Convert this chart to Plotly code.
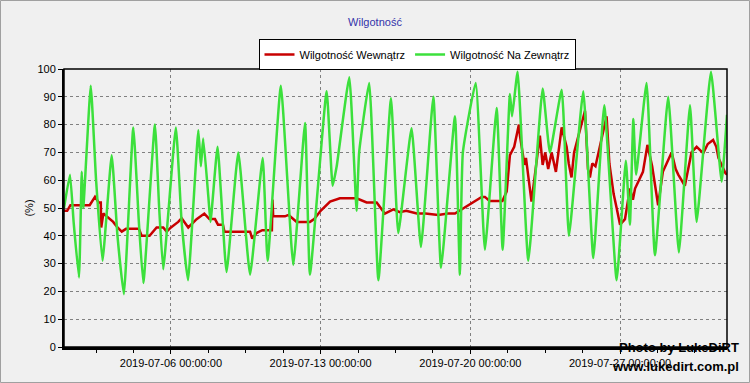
import pandas as pd
import plotly.graph_objects as go

START = pd.Timestamp("2019-07-01 00:00:00")

# Outdoor humidity: (days since 2019-07-01, %)
out_days = [0.0, 0.28, 0.45, 0.7, 0.83, 0.9, 1.25, 1.5, 1.8, 2.23, 2.5, 2.8, 3.24, 3.5, 3.71,
            4.25, 4.45, 4.64, 5.23, 5.5, 5.8, 6.28, 6.4, 6.51, 6.75, 6.85, 7.18, 7.6, 8.15, 8.7,
            9.29, 9.52, 10.14, 10.72, 11.27, 11.5, 12.28, 12.56, 12.75, 13.34, 13.68, 13.8, 14.27,
            14.7, 15.29, 15.63, 16.25, 16.69, 17.27, 17.63, 18.28, 18.51, 18.65, 19.25, 19.68,
            20.23, 20.51, 20.85, 20.95, 21.21, 21.71, 22.38, 22.72, 23.27, 23.61, 24.28, 24.75,
            25.26, 25.84, 26.27, 26.46, 26.62, 26.75, 27.24, 27.63, 28.25, 28.75, 29.27, 29.58,
            30.25, 30.75, 31.0]
out_vals = [50, 62, 45, 25, 63, 50, 94, 60, 31, 69, 40, 19, 79, 45, 23,
            80, 50, 28, 79, 45, 24, 78, 65, 75, 54, 45, 72, 27, 70, 26,
            68, 31, 94, 29.5, 80.6, 26, 92, 58, 65, 97, 49, 70, 95,
            24, 89.5, 41, 78.7, 36, 90, 28.5, 83, 26, 70, 95, 35,
            86, 35, 91, 83, 99, 31, 93, 70, 92.5, 40, 92, 32,
            87, 24, 67, 44, 82, 62, 95, 33, 90, 34, 87, 45,
            99, 59.5, 83.5]

# Indoor humidity: (days since 2019-07-01, %)
in_days = [0.0, 0.15, 0.3, 1.2, 1.45, 1.62, 1.72, 1.74, 1.84, 2.0, 2.3, 2.5, 2.7, 2.9, 3.5,
           3.63, 4.0, 4.33, 4.64, 4.8, 5.0, 5.34, 5.5, 5.81, 6.2, 6.56, 6.8, 7.06, 7.2, 7.43,
           7.5, 8.7, 8.8, 9.0, 9.27, 9.72, 9.75, 9.78, 10.33, 10.5, 10.8, 10.88, 11.5, 11.7,
           12.0, 12.44, 12.9, 13.68, 14.15, 14.62, 15.0, 15.4, 15.7, 16.0, 16.5, 16.9, 17.5,
           17.95, 18.28, 18.7, 19.06, 19.53, 19.68, 19.9, 20.5, 20.7, 20.85, 21.05, 21.27,
           21.32, 21.53, 21.6, 21.86, 22.25, 22.38, 22.5, 22.64, 22.8, 23.0, 23.27, 23.5, 23.6,
           23.73, 23.85, 24.36, 24.5, 24.59, 24.7, 24.85, 25.37, 25.5, 25.6, 25.7, 25.84, 26.0,
           26.23, 26.46, 26.6, 26.7, 27.07, 27.28, 27.5, 27.6, 27.78, 28.0, 28.41, 28.6, 28.72,
           29.03, 29.34, 29.58, 29.89, 30.1, 30.35, 30.5, 30.6, 30.93, 31.0]
in_vals = [49, 49, 51, 51, 54, 52, 52, 43, 48, 47, 45, 43, 41.5, 42.5, 42.5,
           40, 40, 43, 43, 41.5, 43, 45, 46.3, 43, 46, 48, 46, 46, 44, 44,
           41.5, 41.5, 39, 41, 42, 42, 53, 47, 47, 47.5, 45.7, 45, 45, 46,
           49, 52.3, 53.5, 53.5, 52, 52, 48, 49.5, 48.5, 49, 48, 48, 47.5,
           48, 48, 50, 52, 54, 54, 52.5, 52.5, 56, 69, 72, 80,
           76, 65.5, 68, 52.3, 76, 65.5, 70, 64, 70, 63, 79, 72, 66,
           61, 70, 85, 64, 61, 66, 65, 83, 66, 61, 55, 50, 44,
           46, 57, 53, 57, 63, 72.7, 65, 60, 51, 63, 70, 64, 62,
           58, 70, 72, 69.7, 73, 74.5, 72, 68, 62.5, 62]

x_tick_days = [5, 12, 19, 26]
x_tick_text = ["2019-07-06 00:00:00", "2019-07-13 00:00:00", "2019-07-20 00:00:00", "2019-07-27 00:00:00"]
y_ticks = [0, 10, 20, 30, 40, 50, 60, 70, 80, 90, 100]

TITLE = "Wilgotność"
NAME_IN = "Wilgotność Wewnątrz"
NAME_OUT = "Wilgotność Na Zewnątrz"


def to_time(days):
    return [START + pd.Timedelta(hours=round(d * 24, 2)) for d in days]


FONT = "Liberation Sans, Arial, sans-serif"
BG = "#f0f0f0"

fig = go.Figure()
fig.add_trace(go.Scatter(x=to_time(in_days), y=in_vals, mode="lines", name=NAME_IN,
                         line=dict(color="#c80000", width=2.5)))
fig.add_trace(go.Scatter(x=to_time(out_days), y=out_vals, mode="lines", name=NAME_OUT,
                         line=dict(color="#3ce03c", width=2.5, shape="spline", smoothing=0.4)))

L, R, T, B = 64, 23, 69, 36
W, H = 750, 383
pw, ph = W - L - R, H - T - B

fig.update_layout(
    width=W, height=H,
    margin=dict(l=L, r=R, t=T, b=B, autoexpand=False),
    paper_bgcolor=BG, plot_bgcolor=BG,
    font=dict(family=FONT, size=11, color="black"),
    title=dict(text=TITLE, x=0.5, xanchor="center", y=1 - 22 / H, yanchor="middle",
               font=dict(family=FONT, size=11, color="#3333aa")),
    legend=dict(orientation="h", x=(417 - L) / pw, xanchor="center",
                y=(H - B - 39) / ph, yanchor="top",
                bgcolor="white", bordercolor="black", borderwidth=1,
                font=dict(family=FONT, size=11, color="black"),
                itemwidth=30, tracegroupgap=0),
    showlegend=True,
)

fig.update_xaxes(
    type="date",
    range=[START, START + pd.Timedelta(days=31)],
    tickmode="array",
    tickvals=to_time(x_tick_days),
    ticktext=x_tick_text,
    ticks="outside", ticklen=4, tickcolor="black",
    showgrid=True, gridcolor="#808080", gridwidth=1, griddash="3px,3px",
    showline=True, linecolor="black", linewidth=3,
    zeroline=False,
    minor=dict(tickmode="array",
               tickvals=to_time([1.5, 3.25, 6.75, 8.5, 10.25, 13.75, 15.5, 17.25, 20.75, 22.5, 24.25, 27.75, 29.5]),
               ticks="outside", ticklen=3, tickcolor="black", showgrid=False),
    tickfont=dict(family=FONT, size=11, color="black"),
    fixedrange=True,
)
fig.update_yaxes(
    range=[0, 100],
    tickvals=y_ticks,
    ticks="outside", ticklen=4, tickcolor="black",
    showgrid=True, gridcolor="#808080", gridwidth=1, griddash="3px,3px",
    showline=True, linecolor="black", linewidth=2,
    zeroline=False,
    title=dict(text="(%)", standoff=2, font=dict(family=FONT, size=11, color="black")),
    tickfont=dict(family=FONT, size=11, color="black"),
    fixedrange=True,
)

# plot frame (top/right)
fig.add_shape(type="rect", xref="paper", yref="paper", x0=0, x1=1, y0=0, y1=1,
              line=dict(color="black", width=1.5), layer="above")
# outer border of the image
fig.add_shape(type="rect", xref="paper", yref="paper",
              x0=(0.5 - L) / pw, x1=(W - 0.5 - L) / pw,
              y0=(H - B - (H - 0.5)) / ph, y1=(H - B - 0.5) / ph,
              line=dict(color="#a0a0a0", width=1), layer="below")

# watermark
fig.add_annotation(text="<b>Photo by LukeDiRT</b>", xref="paper", yref="paper",
                   x=(741 - L) / pw, xanchor="right", y=(H - B - 347) / ph, yanchor="middle",
                   showarrow=False, font=dict(family=FONT, size=13, color="black"))
fig.add_annotation(text="<b>www.lukedirt.com.pl</b>", xref="paper", yref="paper",
                   x=(741 - L) / pw, xanchor="right", y=(H - B - 366) / ph, yanchor="middle",
                   showarrow=False, font=dict(family=FONT, size=13, color="black"))

fig.write_html("out.html", config={"displayModeBar": False},
               post_script="document.body.style.margin='0';document.body.style.overflow='hidden';")
